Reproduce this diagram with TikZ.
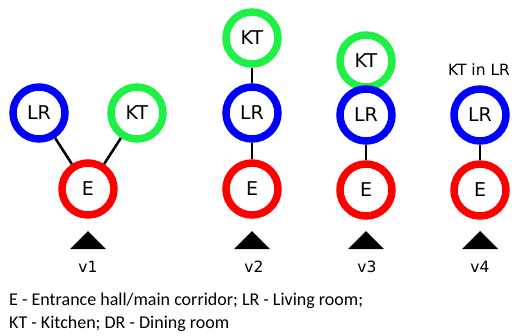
\documentclass[tikz,border=0pt]{standalone}
\usepackage{fontspec}
\setmainfont{Carlito}
\newfontfamily\vera{DejaVu Sans}
\definecolor{rred}{RGB}{255,0,0}
\definecolor{rblue}{RGB}{0,0,255}
\definecolor{rgreen}{RGB}{30,240,70}
\tikzset{
  room/.style={circle, draw=#1, line width=7.5pt, fill=white, minimum size=52pt, inner sep=0pt, font=\vera\fontsize{19}{19}\selectfont},
  link/.style={line width=2.5pt, black},
  entry/.style={fill=black, draw=none},
  vlabel/.style={font=\vera\fontsize{15.5}{15.5}\selectfont},
  legend/.style={anchor=west, font=\fontsize{18}{18}\selectfont, inner sep=0pt},
}
\begin{document}
\begin{tikzpicture}[x=1pt,y=-1pt]
\useasboundingbox (0,0) rectangle (514,335);
% v1
\node[room=rred] (e1) at (88,189) {E};
\node[room=rblue] (lr1) at (39,113) {LR};
\node[room=rgreen] (kt1) at (137,113) {KT};
\draw[link] (lr1) -- (e1);
\draw[link] (kt1) -- (e1);
\fill[entry] (70,249) -- (88,231) -- (106,249) -- cycle;
\node[vlabel] (l1) at (88,267) {v1};
% v2
\node[room=rgreen] (kt2) at (252,38) {KT};
\node[room=rblue] (lr2) at (252,113) {LR};
\node[room=rred] (e2) at (252,189) {E};
\draw[link] (kt2) -- (lr2);
\draw[link] (lr2) -- (e2);
\fill[entry] (234,249) -- (252,231) -- (270,249) -- cycle;
\node[vlabel] (l2) at (254,267) {v2};
% v3
\node[room=rgreen] (kt3) at (366,61) {KT};
\node[room=rblue] (lr3) at (366,115) {LR};
\node[room=rred] (e3) at (366,190) {E};
\draw[link] (lr3) -- (e3);
\fill[entry] (348,249) -- (366,231) -- (384,249) -- cycle;
\node[vlabel] (l3) at (367,267) {v3};
% v4
\node[vlabel] (t4) at (479,70) {KT in LR};
\node[room=rblue] (lr4) at (480,115) {LR};
\node[room=rred] (e4) at (480,190) {E};
\draw[link] (lr4) -- (e4);
\fill[entry] (462,249) -- (480,231) -- (498,249) -- cycle;
\node[vlabel] (l4) at (480,267) {v4};
% legend
\node[legend] (leg1) at (9,301) {E - Entrance hall/main corridor; LR - Living room;};
\node[legend] (leg2) at (9,324) {KT - Kitchen; DR - Dining room};
\end{tikzpicture}
\end{document}
